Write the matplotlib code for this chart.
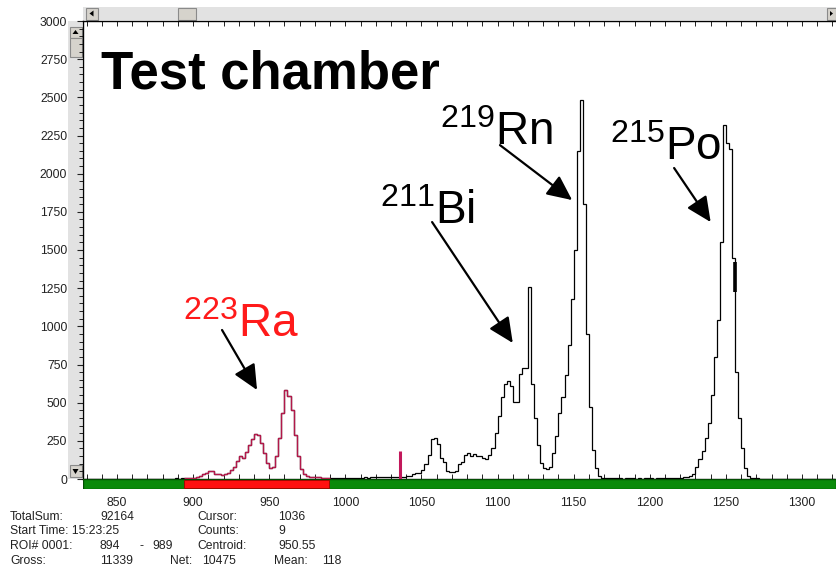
import numpy as np
import matplotlib
matplotlib.use('Agg')
import matplotlib.pyplot as plt
from matplotlib.patches import Rectangle, Polygon

plt.rcParams['font.family'] = ['Liberation Sans', 'DejaVu Sans']
plt.rcParams['mathtext.default'] = 'regular'

# ---------------- data (counts per 2-channel bin) ----------------
bin_start = 828
bin_width = 2
counts_low = [0, 0, 0, 0, 0, 0, 0, 1, 0, 0, 1, 0, 0, 1, 0, 1, 0, 1, 2, 1,
              0, 1, 2, 1, 2, 3, 2, 3, 2, 3, 4, 3, 4, 5, 6, 8]            # 828-898
counts_ra = [8, 15, 20, 30, 40, 55, 50, 35, 30, 25, 30, 40, 60, 80, 120, 150,
             135, 175, 225, 265, 295, 285, 235, 170, 105, 70, 80, 150, 270, 430,
             585, 545, 450, 285, 150, 65, 35, 22, 15, 12, 10, 10, 8, 8, 6]  # 900-988
counts_gap = [5, 6, 5, 6, 7, 6, 8, 7, 8, 9, 8, 10, 9, 11, 10, 12, 11, 10, 12,
              13, 12, 14, 13, 15, 16]                                     # 990-1038
counts_bi_low = [18, 22, 35, 38, 40, 60, 100, 160, 265, 270, 230, 140, 110, 55,
                 48, 48, 50, 95, 110, 160, 170, 150, 165, 150]            # 1040-1086
counts_bi_rn = [150, 140, 130, 160, 200, 300, 410, 540, 625, 645, 610, 505, 505,
                690, 727, 730, 1260, 620, 400, 220, 105, 70, 65, 80, 170, 280,
                430, 540, 680, 880, 1180, 1500, 2150, 2480, 1800, 950, 470, 190,
                75, 20, 8]                                                # 1088-1168
counts_mid = [6, 5, 5, 4, 5, 4, 3, 4, 5, 4, 3, 4, 3, 4, 5, 4, 3, 4, 5, 4, 5, 4,
              5, 6, 7]                                                    # 1170-1218
counts_po = [8, 10, 15, 20, 35, 80, 130, 185, 270, 370, 550, 800, 1040, 1550,
             2320, 2200, 2160, 1450, 700, 400, 200, 70, 20, 8, 5]         # 1220-1268
counts_high = [4, 3, 3, 2, 3, 2, 2, 3, 2, 2, 1, 2, 2, 1, 2, 1, 1, 2, 1, 1, 1, 2,
               1, 1, 1, 1]                                                # 1270-1320

counts = np.array(counts_low + counts_ra + counts_gap + counts_bi_low +
                  counts_bi_rn + counts_mid + counts_po + counts_high, float)
edges = bin_start + bin_width * np.arange(len(counts) + 1)

roi_start, roi_end = 894, 989
cursor_channel, cursor_height = 1036, 185
marker_channel, marker_lo, marker_hi = 1256, 1225, 1420

x_ticks = [850, 900, 950, 1000, 1050, 1100, 1150, 1200, 1250, 1300]
y_ticks = [0, 250, 500, 750, 1000, 1250, 1500, 1750, 2000, 2250, 2500, 2750, 3000]

info_lines = [
    [("TotalSum:", 10), ("92164", 100), ("Cursor:", 197), ("1036", 278)],
    [("Start Time: 15:23:25", 10), ("Counts:", 197), ("9", 278)],
    [("ROI# 0001:", 10), ("894", 100), ("-", 140), ("989", 152),
     ("Centroid:", 197), ("950.55", 278)],
    [("Gross:", 10), ("11339", 100), ("Net:", 170), ("10475", 202),
     ("Mean:", 274), ("118", 322)],
]
info_y = [517, 531, 546, 561]

# ---------------- figure ----------------
W, H = 836, 570
fig = plt.figure(figsize=(W / 100, H / 100), dpi=100)
fig.patch.set_facecolor('white')

def fx(px):
    return px / W

def fy(py):
    return 1 - py / H

XMIN, XMAX = 827.66, 1322.35

ax = fig.add_axes([fx(83), fy(479), fx(836) - fx(83), fy(21) - fy(479)])
bar = fig.add_axes([fx(83), fy(489), fx(836) - fx(83), fy(479) - fy(489)])

ax.set_xlim(XMIN, XMAX)
ax.set_ylim(0, 3000)

# spectrum
ax.stairs(counts, edges, baseline=None, color='black', lw=0.9, zorder=3)
i0 = (roi_start - bin_start) // bin_width
i1 = (roi_end + 1 - bin_start) // bin_width
ax.stairs(counts[i0:i1], edges[i0:i1 + 1], baseline=None, color='#b3184a',
          lw=1.0, zorder=4)
ax.vlines(cursor_channel, 0, cursor_height, color='#c2185b', lw=2.2, zorder=5)
ax.vlines(marker_channel, marker_lo, marker_hi, color='black', lw=2.6, zorder=5)

# ticks
ax.set_yticks(y_ticks)
ax.set_yticks(np.arange(0, 3001, 50), minor=True)
ax.tick_params(axis='y', which='major', direction='out', length=4.3, width=0.8,
               pad=7.0, labelsize=8.7, colors='#222222')
ax.tick_params(axis='y', which='minor', direction='out', length=2.6, width=0.7,
               colors='#222222')
ax.set_xticks(np.arange(830, 1321, 10))
ax.tick_params(axis='x', which='major', direction='in', length=3.5, width=0.7,
               top=True, bottom=True, labelbottom=False, colors='#222222')
for s in ['top', 'left', 'bottom']:
    ax.spines[s].set_color('black')
    ax.spines[s].set_linewidth(1.0)
ax.spines['right'].set_visible(False)

# ROI / channel bar
bar.set_xlim(XMIN, XMAX)
bar.set_ylim(0, 1)
bar.add_patch(Rectangle((XMIN, 0), XMAX - XMIN, 1, facecolor='#0a8a0a',
                        edgecolor='#034d03', lw=1.0))
bar.add_patch(Rectangle((roi_start, 0.06), roi_end - roi_start, 0.88,
                        facecolor='#ff1010', edgecolor='#a00000', lw=0.6))
bar.set_yticks([])
bar.set_xticks(x_ticks)
bar.tick_params(axis='x', length=0, pad=6.0, labelsize=8.7, colors='#222222')
for s in bar.spines.values():
    s.set_visible(False)

# labels
ax.text(839.5, 2560, 'Test chamber', fontsize=38, fontweight='bold',
        ha='left', va='baseline', color='black')
lab_kw = dict(fontsize=33, ha='left', va='baseline')
ax.text(893.4, 930, r'$^{223}$Ra', color='#ff1a1a', **lab_kw)
ax.text(1022.8, 1670, r'$^{211}$Bi', color='black', **lab_kw)
ax.text(1062.2, 2187, r'$^{219}$Rn', color='black', **lab_kw)
ax.text(1173.9, 2089, r'$^{215}$Po', color='black', **lab_kw)

arrow_kw = dict(arrowstyle='-|>,head_length=0.9,head_width=0.42', color='black',
                lw=1.6, mutation_scale=17, shrinkA=0, shrinkB=0)
ax.annotate('', xy=(942, 583), xytext=(919, 976), arrowprops=arrow_kw)
ax.annotate('', xy=(1110, 891), xytext=(1057, 1683), arrowprops=arrow_kw)
ax.annotate('', xy=(1149, 1827), xytext=(1101.6, 2187), arrowprops=arrow_kw)
ax.annotate('', xy=(1240, 1683), xytext=(1216, 2037), arrowprops=arrow_kw)

# info text
for row, yy in zip(info_lines, info_y):
    for txt, xx in row:
        fig.text(fx(xx), fy(yy), txt, fontsize=8.7, ha='left', va='center',
                 color='#222222')

# scrollbars (window chrome)
def rect(x0, y0, x1, y1, **kw):
    p = Rectangle((fx(x0), fy(y1)), fx(x1) - fx(x0), fy(y0) - fy(y1),
                  transform=fig.transFigure, zorder=-1, **kw)
    fig.add_artist(p)

def tri(pts, **kw):
    p = Polygon([(fx(a), fy(b)) for a, b in pts], closed=True,
                transform=fig.transFigure, zorder=-0.5, **kw)
    fig.add_artist(p)

trough = dict(facecolor='#e2e2e2', edgecolor='none')
button = dict(facecolor='#d6d3cc', edgecolor='#8a8a8a', lw=0.8)
rect(83, 7, 836, 20, **trough)
rect(68, 21, 82, 479, **trough)
rect(86, 8, 98, 19.5, **button)
tri([(89.5, 13.5), (93.5, 10.5), (93.5, 16.5)], facecolor='black')
rect(178, 8, 196, 19.5, **button)
rect(827, 8, 836, 19.5, **button)
tri([(833, 13.5), (830, 11), (830, 16)], facecolor='black')
rect(69.5, 27, 81.5, 37.5, **button)
tri([(75.5, 30), (72.5, 34), (78.5, 34)], facecolor='black')
rect(69.5, 38, 81.5, 57, **button)
rect(69.5, 465, 81.5, 477, **button)
tri([(75.5, 474), (72.5, 469), (78.5, 469)], facecolor='black')

fig.savefig('out.png', dpi=100, facecolor='white')
